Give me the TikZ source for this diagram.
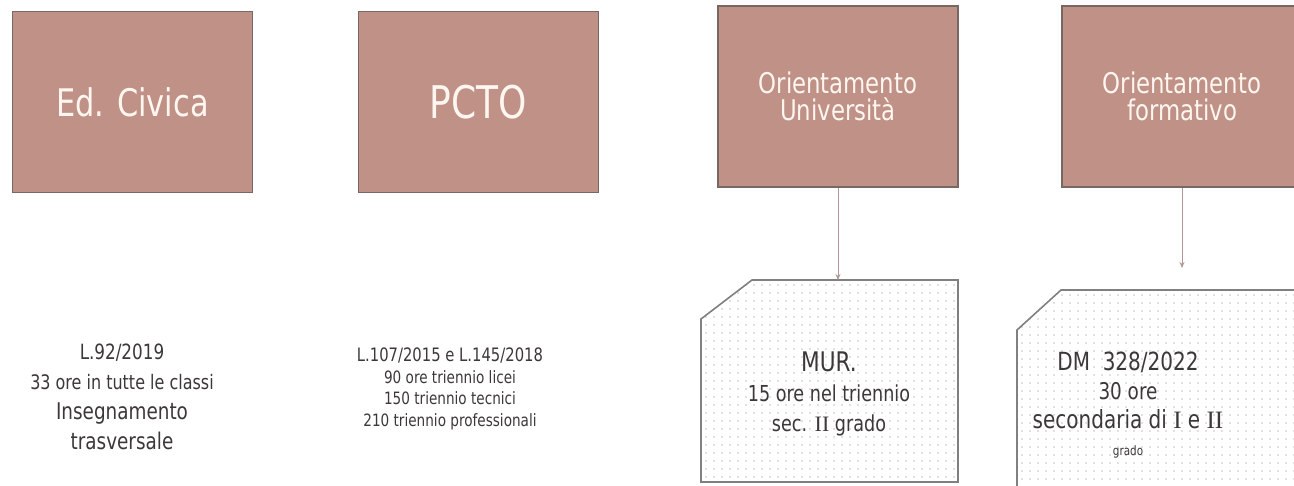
\documentclass[tikz,border=0pt]{standalone}
\usepackage{fontspec}
\setmainfont{DejaVu Sans}[FakeStretch=0.8]
\newfontfamily\romfont{Liberation Serif}
\usetikzlibrary{calc,arrows.meta}
\definecolor{boxfill}{RGB}{191,145,135}
\definecolor{boxline}{RGB}{120,104,100}
\definecolor{titletext}{RGB}{255,246,240}
\definecolor{lowtext}{RGB}{60,56,56}
\definecolor{arrowc}{RGB}{176,152,148}
\definecolor{noteline}{RGB}{128,128,128}
\definecolor{dotc}{RGB}{196,196,196}
\newcommand{\fs}[2]{\fontsize{#1}{#2}\selectfont}
\newcommand{\rn}[1]{{\romfont #1}}
\begin{document}
\begin{tikzpicture}[x=1pt,y=-1pt,
  titlebox/.style={draw=boxline, line width=1.3pt, fill=boxfill, text=titletext,
    inner sep=0pt, align=center, minimum width=240pt, minimum height=181pt},
  lowtxt/.style={text=lowtext, align=center, inner sep=0pt},
  frame/.style={inner sep=0pt, outer sep=0pt},
  noteshape/.style={draw=noteline, line width=1.6pt, fill=white, line join=miter,
    path picture={
      \foreach \i in {0,...,40}{\foreach \j in {0,...,30}{
        \fill[dotc] ($(path picture bounding box.north west)+(\i*8pt+5pt,-\j*8pt-5pt)$) circle (0.8pt);}}}},
  link/.style={draw=arrowc, line width=0.9pt, -{Stealth[length=6pt,width=5pt]}}
]
\useasboundingbox (0,0) rectangle (1294,486);
\clip (0,0) rectangle (1294,486);

% title boxes
\node[titlebox, font=\fs{38}{44}] (civ) at (132.5,102) {Ed. Civica};
\node[titlebox, font=\fs{45}{50}] (pcto) at (478.5,102) {PCTO};
\node[titlebox, font=\fs{28.5}{27}] (uni) at (838,96.5) {Orientamento\\Università};
\node[titlebox, font=\fs{28.5}{27}] (form) at (1182,96.5) {Orientamento\\formativo};

% note boxes (frames, then chamfered outlines)
\node[frame, minimum width=257pt, minimum height=202pt] (mur) at (829.5,381) {};
\node[frame, minimum width=283pt, minimum height=210pt] (dm) at (1158.5,395) {};
\path[noteshape] ($(mur.north west)+(51pt,0)$) -- (mur.north east) -- (mur.south east)
   -- (mur.south west) -- ($(mur.north west)+(0,-39pt)$) -- cycle;
\path[noteshape] ($(dm.north west)+(44pt,0)$) -- (dm.north east) -- (dm.south east)
   -- (dm.south west) -- ($(dm.north west)+(0,-40pt)$) -- cycle;

% connectors
\draw[link] (uni.south) -- (mur.north -| uni.south);
\coordinate (dmtop) at (1182,268);
\draw[link] (form.south) -- (dmtop);

% free texts
\node[lowtxt, font=\fs{23}{30}] (civtxt) at (122,397)
  {{\fs{21}{30}L.92/2019}\\{\fs{20}{30}33 ore in tutte le classi}\\Insegnamento\\trasversale};
\node[lowtxt, font=\fs{17}{21.5}] (pctotxt) at (450,389)
  {{\fs{18.5}{21.5}L.107/2015 e L.145/2018}\\90 ore triennio licei\\150 triennio tecnici\\210 triennio professionali};
\node[lowtxt, font=\fs{22}{30}] (murtxt) at (829,394)
  {{\fs{27}{30}MUR.}\\15 ore nel triennio\\sec. \rn{II} grado};
\node[lowtxt, font=\fs{25}{29}, anchor=north] (dmtxt) at (1128,352)
  {DM\ \ 328/2022\\{\fs{23}{29}30 ore}\\secondaria di \rn{I} e \rn{II}\\[-2pt]{\fs{13}{29}grado}};
\end{tikzpicture}
\end{document}
